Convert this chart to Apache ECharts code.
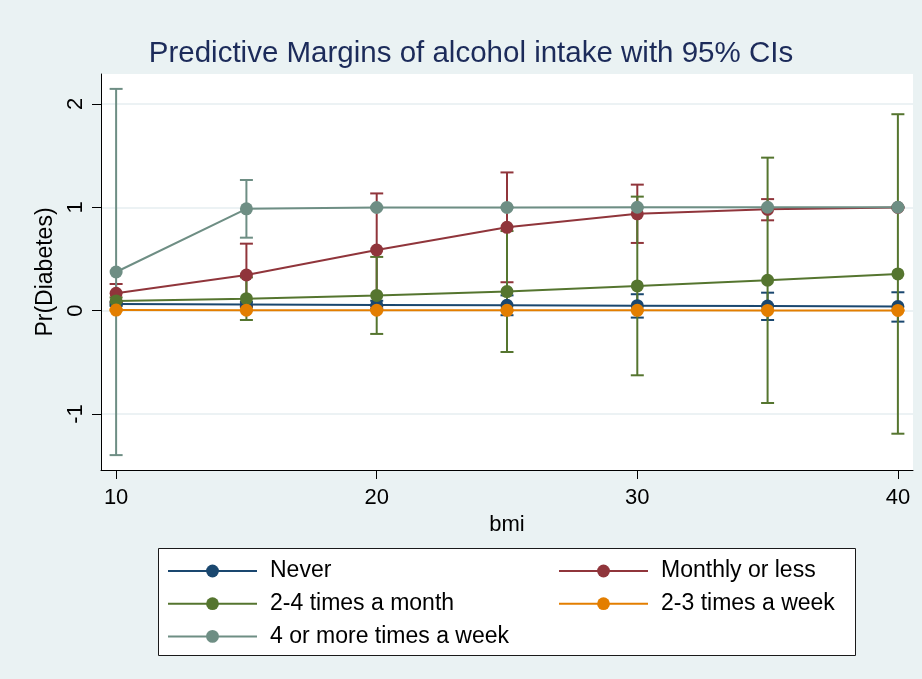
<!DOCTYPE html>
<html>
<head>
<meta charset="utf-8">
<title>Predictive Margins of alcohol intake</title>
<script src="https://cdn.jsdelivr.net/npm/echarts@6/dist/echarts.min.js"></script>
<style>
  html, body { margin: 0; padding: 0; background: #EAF2F3; }
  #chart { width: 922px; height: 679px; }
</style>
</head>
<body>
<div id="chart"></div>
<script>
// bmi values at which margins were evaluated
const bmi = [10, 15, 20, 25, 30, 35, 40];

// Predicted Pr(Diabetes) with 95% CI bounds, by alcohol intake group
const neverEst = [0.065, 0.060, 0.056, 0.052, 0.048, 0.044, 0.040];
const neverLo  = [0.045, 0.035, 0.016, -0.044, -0.067, -0.090, -0.106];
const neverHi  = [0.085, 0.085, 0.096, 0.148, 0.159, 0.174, 0.178];

const monthlyEst = [0.168, 0.345, 0.587, 0.806, 0.937, 0.980, 0.998];
const monthlyLo  = [0.078, 0.045, 0.040, 0.275, 0.655, 0.874, 0.990];
const monthlyHi  = [0.258, 0.648, 1.134, 1.337, 1.219, 1.079, 1.006];

const twoFourMonthEst = [0.094, 0.116, 0.147, 0.185, 0.239, 0.294, 0.355];
const twoFourMonthLo  = [0.060, -0.090, -0.225, -0.400, -0.625, -0.893, -1.190];
const twoFourMonthHi  = [0.128, 0.322, 0.520, 0.770, 1.103, 1.480, 1.900];

const twoThreeWeekEst = [0.006, 0.005, 0.004, 0.003, 0.003, 0.002, 0.002];
const twoThreeWeekLo  = [0.001, 0.000, -0.001, -0.002, -0.002, -0.003, -0.003];
const twoThreeWeekHi  = [0.011, 0.010, 0.009, 0.008, 0.008, 0.007, 0.007];

const fourPlusEst = [0.374, 0.985, 0.998, 0.999, 1.000, 1.000, 1.000];
const fourPlusLo  = [-1.397, 0.706, 0.990, 0.995, 0.997, 0.998, 0.999];
const fourPlusHi  = [2.145, 1.264, 1.006, 1.003, 1.003, 1.002, 1.001];

// Axis ticks
const xTicks = [10, 20, 30, 40];
const yTicks = [-1, 0, 1, 2];

const groups = [
  { name: 'Never',                 color: '#1A476F', est: neverEst,        lo: neverLo,        hi: neverHi },
  { name: 'Monthly or less',       color: '#90353B', est: monthlyEst,      lo: monthlyLo,      hi: monthlyHi },
  { name: '2-4 times a month',     color: '#55752F', est: twoFourMonthEst, lo: twoFourMonthLo, hi: twoFourMonthHi },
  { name: '2-3 times a week',      color: '#E37E00', est: twoThreeWeekEst, lo: twoThreeWeekLo, hi: twoThreeWeekHi },
  { name: '4 or more times a week', color: '#6E8E84', est: fourPlusEst,    lo: fourPlusLo,     hi: fourPlusHi }
];

const FONT = '"Liberation Sans", Arial, Helvetica, sans-serif';
const CAP = 6.5;

// Capped range bars for the confidence intervals
function ciSeries(g) {
  return {
    type: 'custom',
    name: g.name + ' CI',
    z: 1,
    silent: true,
    data: bmi.map((x, i) => [x, g.lo[i], g.hi[i]]),
    encode: { x: 0, y: [1, 2] },
    renderItem: function (params, api) {
      const x = api.value(0);
      const pLo = api.coord([x, api.value(1)]);
      const pHi = api.coord([x, api.value(2)]);
      const style = { stroke: g.color, lineWidth: 2, fill: null };
      return {
        type: 'group',
        children: [
          { type: 'line', shape: { x1: pLo[0], y1: pLo[1], x2: pHi[0], y2: pHi[1] }, style: style },
          { type: 'line', shape: { x1: pLo[0] - CAP, y1: pLo[1], x2: pLo[0] + CAP, y2: pLo[1] }, style: style },
          { type: 'line', shape: { x1: pHi[0] - CAP, y1: pHi[1], x2: pHi[0] + CAP, y2: pHi[1] }, style: style }
        ]
      };
    }
  };
}

function lineSeries(g) {
  return {
    type: 'line',
    name: g.name,
    z: 3,
    data: bmi.map((x, i) => [x, g.est[i]]),
    symbol: 'circle',
    symbolSize: 13,
    showAllSymbol: true,
    color: g.color,
    itemStyle: { color: g.color },
    lineStyle: { color: g.color, width: 2 }
  };
}

const legendCommon = {
  orient: 'vertical',
  itemWidth: 89,
  itemHeight: 16,
  itemGap: 9.7,
  selectedMode: false,
  padding: 0,
  textStyle: { fontFamily: FONT, fontSize: 23, color: '#000', padding: [0, 0, 0, 8] }
};

const chart = echarts.init(document.getElementById('chart'), null, { renderer: 'canvas' });

chart.setOption({
  animation: false,
  backgroundColor: '#EAF2F3',
  title: {
    text: 'Predictive Margins of alcohol intake with 95% CIs',
    left: 471,
    textAlign: 'center',
    top: 39,
    padding: 0,
    textStyle: { fontFamily: FONT, fontSize: 29.5, fontWeight: 'normal', color: '#1C2B5A' }
  },
  graphic: [{
    type: 'rect',
    z: 0,
    shape: { x: 158.5, y: 548.5, width: 697, height: 107 },
    style: { fill: '#FFFFFF', stroke: '#1A1A1A', lineWidth: 1 }
  }],
  legend: [
    Object.assign({}, legendCommon, {
      left: 167, top: 559.5,
      data: ['Never', '2-4 times a month', '4 or more times a week']
    }),
    Object.assign({}, legendCommon, {
      left: 558, top: 559.5,
      data: ['Monthly or less', '2-3 times a week']
    })
  ],
  grid: {
    left: 101, right: 9, top: 74, bottom: 209,
    show: true, backgroundColor: '#FFFFFF', borderWidth: 0
  },
  xAxis: {
    type: 'value',
    min: 9.42, max: 40.58,
    name: 'bmi',
    nameLocation: 'middle',
    nameGap: 39,
    nameTextStyle: { fontFamily: FONT, fontSize: 22, color: '#000' },
    axisLine: { onZero: false, lineStyle: { color: '#000', width: 1 } },
    axisTick: { show: true, length: 9, lineStyle: { color: '#000', width: 1 }, customValues: xTicks },
    axisLabel: { fontFamily: FONT, fontSize: 22, color: '#000', margin: 17, customValues: xTicks, formatter: v => String(v) },
    splitLine: { show: false }
  },
  yAxis: {
    type: 'value',
    min: -1.541, max: 2.289,
    name: 'Pr(Diabetes)',
    nameLocation: 'middle',
    nameRotate: 90,
    nameGap: 36,
    nameTextStyle: { fontFamily: FONT, fontSize: 23, color: '#000' },
    axisLine: { show: true, onZero: false, lineStyle: { color: '#000', width: 1 } },
    axisTick: { show: true, length: 9, lineStyle: { color: '#000', width: 1 }, customValues: yTicks },
    axisLabel: { fontFamily: FONT, fontSize: 22, color: '#000', rotate: 90, margin: 14, customValues: yTicks, formatter: v => String(v) },
    splitLine: { show: true, lineStyle: { color: '#E6EEF0', width: 1.5 } }
  },
  series: groups.map(ciSeries).concat(groups.map(lineSeries))
});
</script>
</body>
</html>
